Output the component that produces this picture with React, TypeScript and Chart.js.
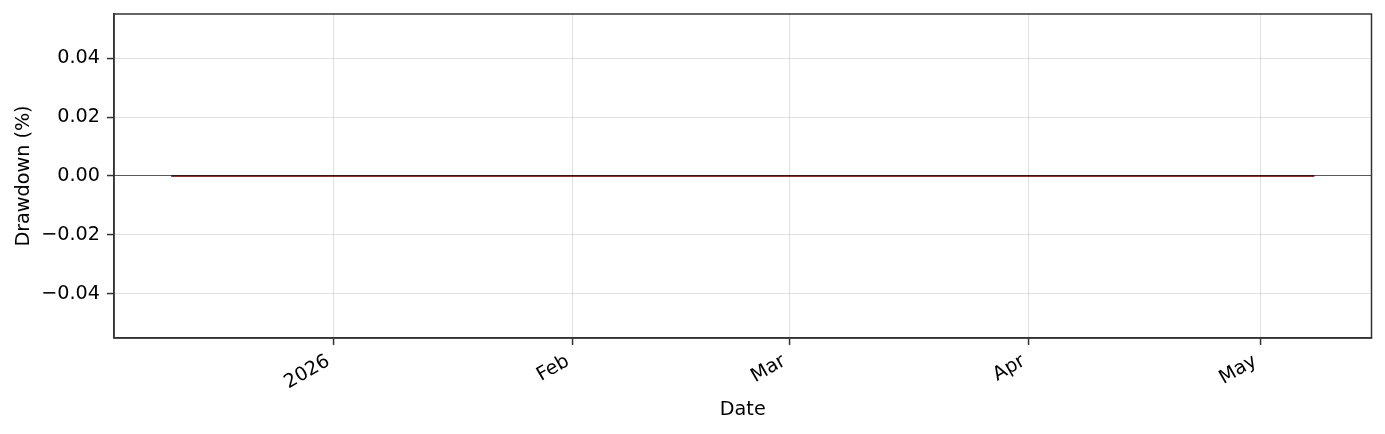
import { useEffect, useRef } from 'react';
import { Chart, registerables } from 'chart.js';

Chart.register(...registerables);

// drawdown series (flat, no losses over the period)
const dates = ['2025-12-11', '2025-12-31', '2026-01-30', '2026-02-27', '2026-03-31', '2026-04-30', '2026-05-08'];
const drawdown = [0, 0, 0, 0, 0, 0, 0];

const monthTicks = ['2026-01-01', '2026-02-01', '2026-03-01', '2026-04-01', '2026-05-01'];
const monthLabels = ['2026', 'Feb', 'Mar', 'Apr', 'May'];
const yTicks = [-0.04, -0.02, 0, 0.02, 0.04];

const FONT = { family: "'DejaVu Sans', sans-serif", size: 19.2 };

const toMs = (d: string) => Date.parse(d + 'T00:00:00Z');

const zeroLinePlugin = {
    id: 'zeroLine',
    afterDatasetsDraw(chart: any) {
        const { ctx, chartArea } = chart;
        const y = chart.scales.y.getPixelForValue(0);
        ctx.save();
        ctx.strokeStyle = 'rgba(0,0,0,0.6)';
        ctx.lineWidth = 1.2;
        ctx.beginPath();
        ctx.moveTo(chartArea.left, y - 0.5);
        ctx.lineTo(chartArea.right, y - 0.5);
        ctx.stroke();
        ctx.restore();
    },
    afterDraw(chart: any) {
        const { ctx, chartArea } = chart;
        ctx.save();
        ctx.strokeStyle = '#333';
        ctx.lineWidth = 1.5;
        ctx.strokeRect(chartArea.left, chartArea.top, chartArea.right - chartArea.left, chartArea.bottom - chartArea.top);
        ctx.restore();
    },
};

const App = () => {
    const chartRef = useRef<HTMLCanvasElement | null>(null);
    const chartInstanceRef = useRef<Chart | null>(null);

    useEffect(() => {
        document.body.style.margin = '0';
        if (!chartRef.current) return;
        if (chartInstanceRef.current) chartInstanceRef.current.destroy();

        const xs = dates.map(toMs);
        const xMin = Math.min(...xs);
        const xMax = Math.max(...xs);
        const margin = (xMax - xMin) * 0.05;
        const tickMs = monthTicks.map(toMs);

        chartInstanceRef.current = new Chart(chartRef.current, {
            type: 'line',
            data: {
                datasets: [
                    {
                        label: 'Drawdown',
                        data: xs.map((x, i) => ({ x, y: drawdown[i] })),
                        borderColor: 'rgb(140,55,55)',
                        borderWidth: 1.8,
                        pointRadius: 0,
                        fill: false,
                    },
                ],
            },
            options: {
                animation: false,
                responsive: true,
                maintainAspectRatio: false,
                layout: { padding: { left: 0, right: 13.5, top: 14, bottom: 0 } },
                plugins: { legend: { display: false }, tooltip: { enabled: false } },
                scales: {
                    x: {
                        type: 'linear',
                        min: xMin - margin,
                        max: xMax + margin,
                        afterBuildTicks: (axis: any) => {
                            axis.ticks = tickMs.map((v) => ({ value: v }));
                        },
                        afterFit: (axis: any) => {
                            axis.height = 96;
                            axis.paddingLeft = 0;
                            axis.paddingRight = 0;
                        },
                        ticks: {
                            minRotation: 30,
                            maxRotation: 30,
                            padding: 5,
                            labelOffset: -5,
                            color: '#000',
                            font: FONT,
                            callback: (v: any) => {
                                const i = tickMs.indexOf(Number(v));
                                return i >= 0 ? monthLabels[i] : '';
                            },
                        },
                        grid: {
                            color: 'rgba(176,176,176,0.36)',
                            lineWidth: 1.1,
                            tickColor: '#333',
                            tickLength: 7,
                            tickWidth: 1.5,
                        },
                        border: { display: true, color: '#333', width: 1.5 },
                        title: {
                            display: true,
                            text: 'Date',
                            color: '#000',
                            font: FONT,
                            padding: { top: 0, bottom: 12 },
                        },
                    },
                    y: {
                        min: -0.055,
                        max: 0.055,
                        afterBuildTicks: (axis: any) => {
                            axis.ticks = yTicks.map((v) => ({ value: v }));
                        },
                        afterFit: (axis: any) => {
                            axis.width = 114;
                            axis.paddingTop = 0;
                            axis.paddingBottom = 0;
                        },
                        ticks: {
                            padding: 7,
                            color: '#000',
                            font: FONT,
                            callback: (v: any) => {
                                const n = Number(v);
                                const s = Math.abs(n).toFixed(2);
                                return n < -1e-9 ? '\u2212' + s : s;
                            },
                        },
                        grid: {
                            color: 'rgba(176,176,176,0.36)',
                            lineWidth: 1.1,
                            tickColor: '#333',
                            tickLength: 7,
                            tickWidth: 1.5,
                        },
                        border: { display: true, color: '#333', width: 1.5 },
                        title: {
                            display: true,
                            text: 'Drawdown (%)',
                            color: '#000',
                            font: FONT,
                            padding: { top: 12, bottom: 0 },
                        },
                    },
                },
            },
            plugins: [zeroLinePlugin],
        });

        return () => {
            if (chartInstanceRef.current) {
                chartInstanceRef.current.destroy();
                chartInstanceRef.current = null;
            }
        };
    }, []);

    return (
        <div style={{ width: 1385, height: 434, position: 'relative' }}>
            <canvas ref={chartRef}></canvas>
        </div>
    );
};

export default App;
